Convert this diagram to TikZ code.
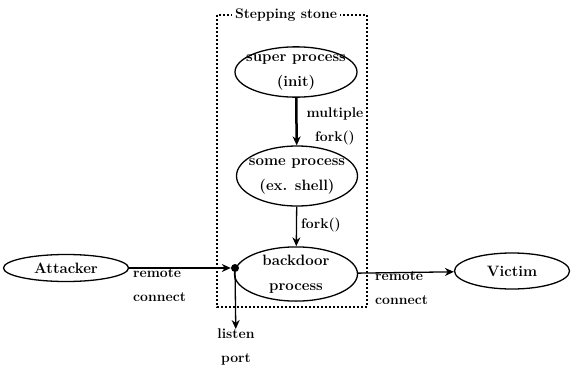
\documentclass[tikz,border=0pt]{standalone}
\usetikzlibrary{shapes.geometric,arrows.meta}
\newcommand{\ctr}[1]{\makebox[0pt]{#1}}
\begin{document}
\begin{tikzpicture}[x=1pt,y=-1pt,>={Stealth[length=9pt,width=8pt]},
	proc/.style={ellipse,draw,line width=1.3pt,inner sep=0,align=center,
		font=\bfseries\fontsize{15}{25}\selectfont},
	lbl/.style={inner sep=0,font=\bfseries\fontsize{14}{24}\selectfont}]
	\useasboundingbox (0,0) rectangle (573,367);
	\draw[line width=1.2pt,dash pattern=on 2pt off 2pt] (217,15) rectangle (367,307);
	\node[lbl,fill=white,inner xsep=3pt] (stone) at (286,15) {Stepping stone};
	\node[proc,minimum width=122pt,minimum height=50pt] (super) at (296,72) {\ctr{super process}\\\ctr{(init)}};
	\node[proc,minimum width=121pt,minimum height=60pt] (some) at (297,176) {\ctr{some process}\\\ctr{(ex. shell)}};
	\node[proc,minimum width=123pt,minimum height=53pt] (back) at (296,274) {\ctr{backdoor}\\\ctr{process}};
	\node[proc,minimum width=125pt,minimum height=27pt] (att) at (66,268) {Attacker};
	\node[proc,minimum width=115pt,minimum height=36pt] (vic) at (512,271) {Victim};
	\node[circle,fill,inner sep=0,minimum size=8pt] (dot) at (235,268) {};
	\node[lbl,align=center] (multi) at (335,126) {multiple\\fork()};
	\node[lbl] (fork) at (321,225) {fork()};
	\node[lbl,align=left,anchor=north west] (rc1) at (133,268) {remote\\connect};
	\node[lbl,align=left,anchor=north west] (rc2) at (375,271) {remote\\connect};
	\node[lbl,align=center,anchor=north] (listen) at (236,329) {listen\\port};
	\draw[->,line width=2.5pt] (super) -- (some);
	\draw[->,line width=1.3pt] (some) -- (back);
	\draw[->,line width=1.3pt] (att) -- (dot);
	\draw[->,line width=1.3pt] (back) -- (vic);
	\draw[->,line width=1.3pt] (dot) -- (listen);
\end{tikzpicture}
\end{document}
